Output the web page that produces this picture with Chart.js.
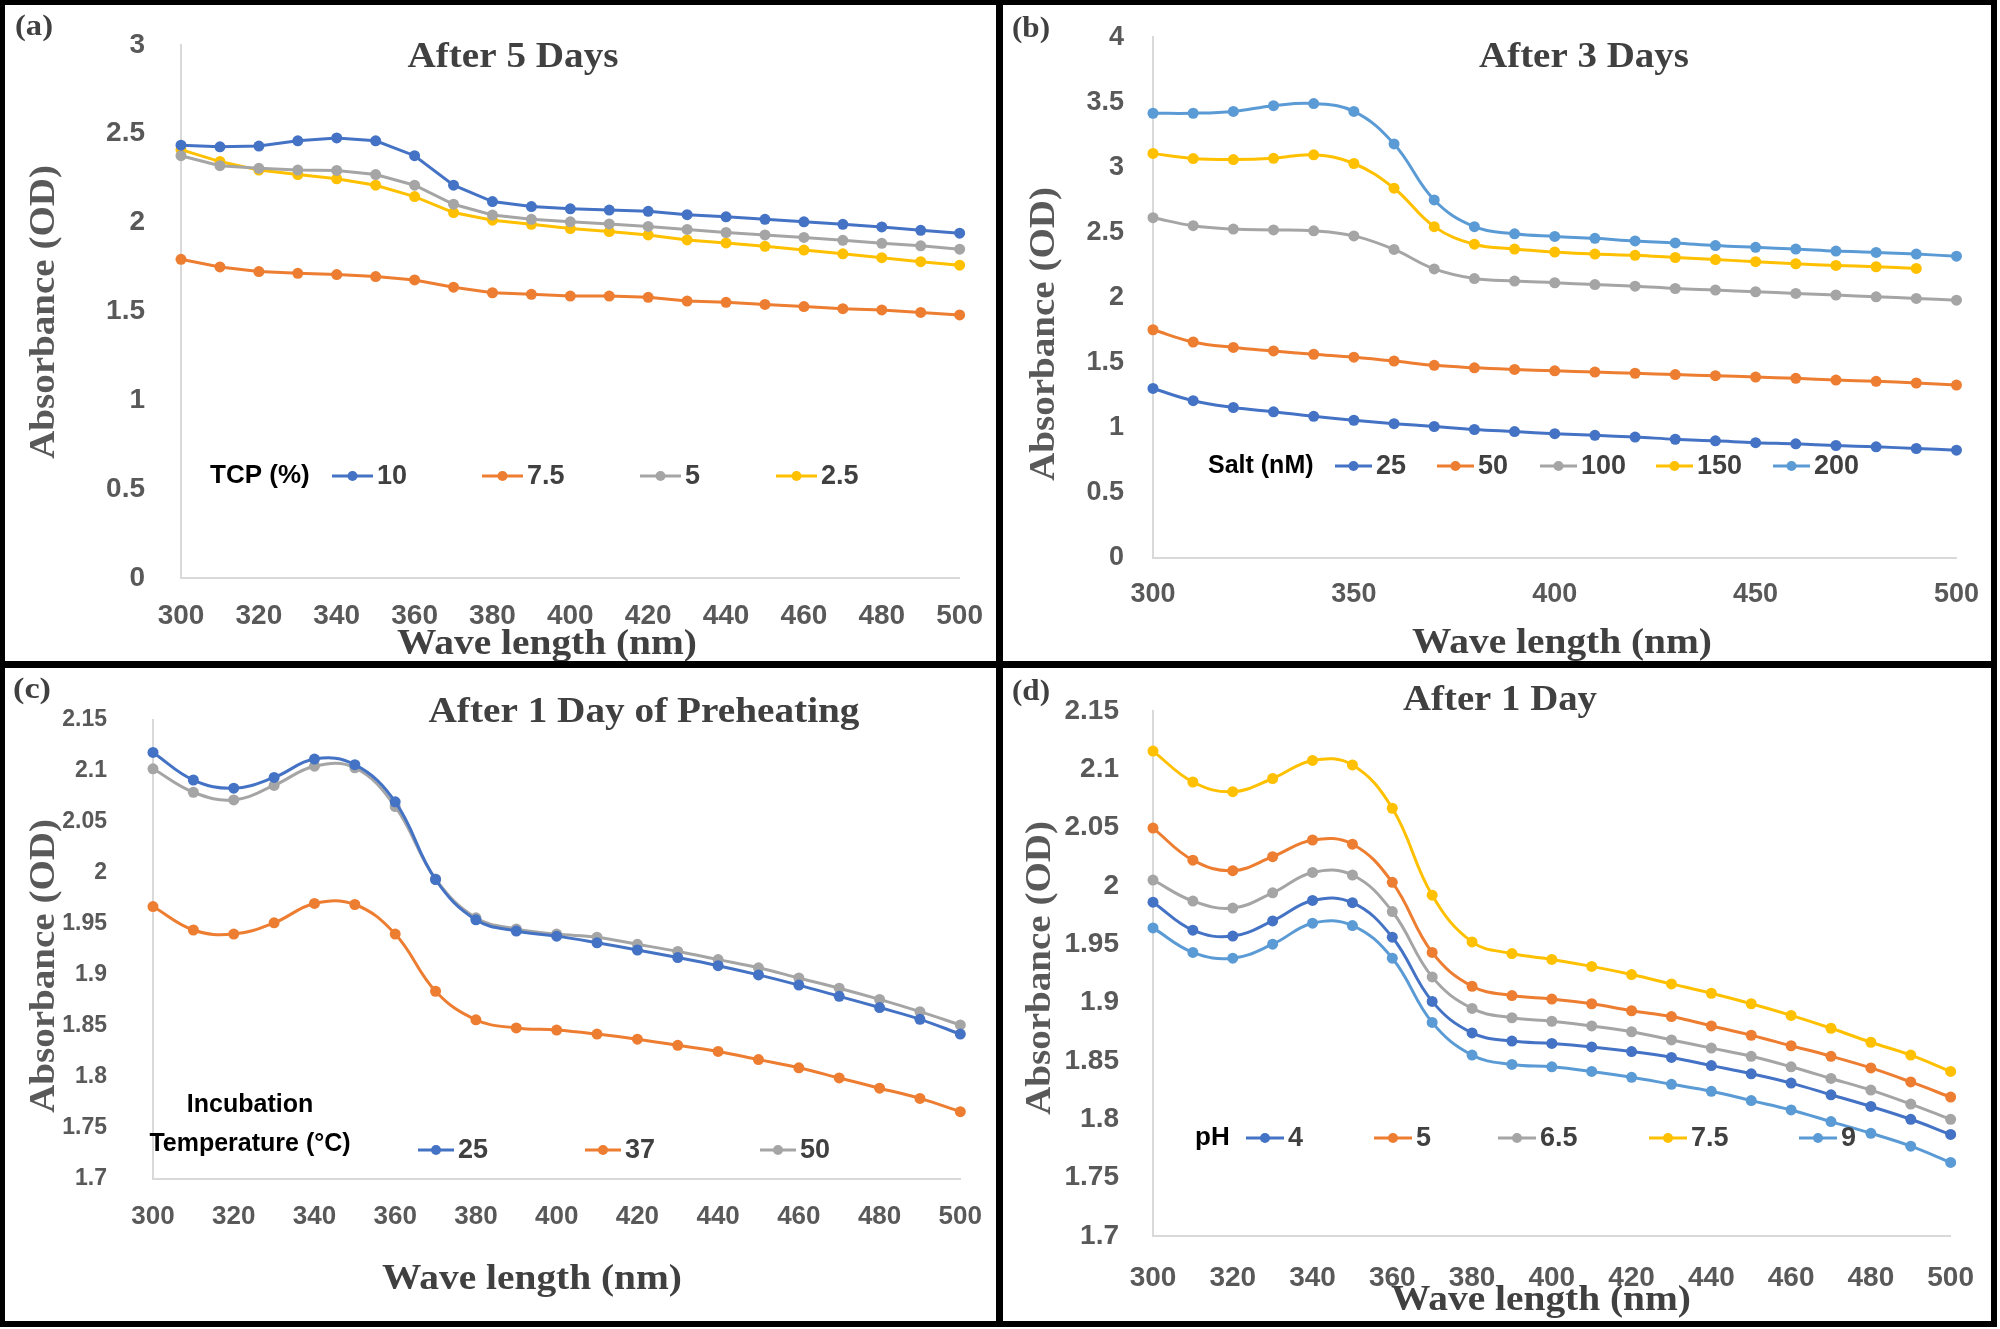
<!DOCTYPE html>
<html>
<head>
<meta charset="utf-8">
<script src="https://cdn.jsdelivr.net/npm/chart.js@4.4.1/dist/chart.umd.min.js"></script>
<style>
  body { margin: 0; background: #fff; }
  #page { position: relative; width: 2000px; height: 1329px; background: #fff; overflow: hidden; }
  canvas { position: absolute; }
  .bar { position: absolute; background: #000; }
</style>
</head>
<body>
<div id="page">
  <canvas id="pa" width="996" height="661" style="left:0;top:0"></canvas>
  <canvas id="pb" width="988" height="661" style="left:1003px;top:0"></canvas>
  <canvas id="pc" width="996" height="653" style="left:0;top:668px"></canvas>
  <canvas id="pd" width="988" height="653" style="left:1003px;top:668px"></canvas>
  <div class="bar" style="left:0;top:0;width:1997px;height:5px"></div>
  <div class="bar" style="left:0;top:1321px;width:1997px;height:6px"></div>
  <div class="bar" style="left:0;top:0;width:5px;height:1327px"></div>
  <div class="bar" style="left:1991px;top:0;width:6px;height:1327px"></div>
  <div class="bar" style="left:996px;top:0;width:7px;height:1327px"></div>
  <div class="bar" style="left:0;top:661px;width:1997px;height:7px"></div>
</div>
<script>
const wavelengths = [300, 310, 320, 330, 340, 350, 360, 370, 380, 390, 400, 410, 420, 430, 440, 450, 460, 470, 480, 490, 500];

// (a) TCP (%), after 5 days
const tcpLabels = ["10", "7.5", "5", "2.5"];
const tcp10 = [2.435, 2.426, 2.43, 2.46, 2.476, 2.46, 2.376, 2.21, 2.118, 2.09, 2.077, 2.07, 2.063, 2.044, 2.032, 2.018, 2.004, 1.99, 1.975, 1.956, 1.94];
const tcp75 = [1.793, 1.75, 1.724, 1.714, 1.707, 1.696, 1.677, 1.636, 1.605, 1.596, 1.586, 1.586, 1.579, 1.558, 1.551, 1.539, 1.527, 1.515, 1.508, 1.494, 1.48];
const tcp5 = [2.376, 2.32, 2.305, 2.295, 2.293, 2.27, 2.21, 2.103, 2.042, 2.018, 2.004, 1.992, 1.978, 1.961, 1.944, 1.93, 1.916, 1.9, 1.883, 1.869, 1.85];
const tcp25 = [2.41, 2.343, 2.295, 2.27, 2.246, 2.21, 2.146, 2.056, 2.013, 1.99, 1.966, 1.949, 1.93, 1.902, 1.885, 1.866, 1.845, 1.824, 1.802, 1.78, 1.76];

// (b) Salt (nM), after 3 days
const saltLabels = ["25", "50", "100", "150", "200"];
const salt25 = [1.302, 1.208, 1.156, 1.123, 1.088, 1.058, 1.032, 1.01, 0.987, 0.971, 0.955, 0.942, 0.929, 0.912, 0.9, 0.886, 0.877, 0.864, 0.854, 0.841, 0.828];
const salt50 = [1.753, 1.659, 1.617, 1.59, 1.565, 1.542, 1.513, 1.48, 1.461, 1.448, 1.438, 1.428, 1.419, 1.409, 1.4, 1.39, 1.38, 1.367, 1.357, 1.344, 1.328];
const salt100 = [2.614, 2.552, 2.526, 2.52, 2.513, 2.474, 2.37, 2.22, 2.146, 2.127, 2.114, 2.1, 2.088, 2.07, 2.058, 2.045, 2.032, 2.02, 2.006, 1.994, 1.98];
const salt150 = [3.107, 3.068, 3.06, 3.07, 3.097, 3.03, 2.84, 2.545, 2.41, 2.373, 2.35, 2.334, 2.325, 2.308, 2.292, 2.276, 2.26, 2.247, 2.237, 2.224];
const salt200 = [3.416, 3.416, 3.43, 3.474, 3.49, 3.43, 3.18, 2.75, 2.545, 2.49, 2.47, 2.455, 2.435, 2.42, 2.4, 2.386, 2.373, 2.357, 2.347, 2.334, 2.318];

// (c) incubation temperature, after 1 day of preheating
const tempLabels = ["25", "37", "50"];
const temp25 = [2.118, 2.091, 2.083, 2.0935, 2.1115, 2.106, 2.0696, 1.9935, 1.954, 1.943, 1.938, 1.9315, 1.9244, 1.917, 1.909, 1.9, 1.89, 1.879, 1.868, 1.8565, 1.842];
const temp37 = [1.967, 1.944, 1.94, 1.951, 1.97, 1.969, 1.94, 1.884, 1.856, 1.848, 1.846, 1.842, 1.837, 1.831, 1.825, 1.817, 1.809, 1.799, 1.789, 1.779, 1.766];
const temp50 = [2.102, 2.079, 2.0715, 2.0857, 2.1045, 2.103, 2.065, 1.994, 1.956, 1.945, 1.94, 1.937, 1.93, 1.923, 1.915, 1.907, 1.897, 1.887, 1.876, 1.864, 1.851];

// (d) pH, after 1 day
const phLabels = ["4", "5", "6.5", "7.5", "9"];
const ph4 = [1.986, 1.962, 1.957, 1.97, 1.9875, 1.9856, 1.956, 1.901, 1.874, 1.867, 1.865, 1.862, 1.858, 1.853, 1.846, 1.839, 1.831, 1.821, 1.811, 1.8, 1.787];
const ph5 = [2.0495, 2.022, 2.013, 2.025, 2.0393, 2.0357, 2.003, 1.943, 1.914, 1.906, 1.903, 1.899, 1.893, 1.888, 1.88, 1.872, 1.863, 1.854, 1.844, 1.832, 1.819];
const ph65 = [2.005, 1.987, 1.981, 1.994, 2.0115, 2.0093, 1.978, 1.922, 1.895, 1.887, 1.884, 1.88, 1.875, 1.868, 1.861, 1.854, 1.845, 1.835, 1.825, 1.813, 1.8];
const ph75 = [2.1155, 2.089, 2.0807, 2.092, 2.1075, 2.1036, 2.0665, 1.992, 1.952, 1.942, 1.937, 1.931, 1.924, 1.916, 1.908, 1.899, 1.889, 1.878, 1.866, 1.855, 1.841];
const ph9 = [1.964, 1.943, 1.938, 1.95, 1.968, 1.966, 1.938, 1.883, 1.855, 1.847, 1.845, 1.841, 1.836, 1.83, 1.824, 1.816, 1.808, 1.798, 1.788, 1.777, 1.763];

const BLUE = "#4472C4", ORANGE = "#ED7D31", GRAY = "#A5A5A5", YELLOW = "#FFC000", LIGHT = "#5B9BD5";
const SERIF = '"Liberation Serif", "Times New Roman", serif';
const SANS = '"Liberation Sans", Arial, sans-serif';

// text squeezed/stretched to the width it has in the picture
function fitText(ctx, text, x, y, font, color, width, rotate) {
  ctx.save();
  ctx.font = font;
  ctx.fillStyle = color;
  ctx.textAlign = "center";
  ctx.textBaseline = "middle";
  const w = ctx.measureText(text).width;
  ctx.translate(x, y);
  if (rotate) ctx.rotate(-Math.PI / 2);
  ctx.scale(width / w, 1);
  ctx.fillText(text, 0, 0);
  ctx.restore();
}

const decor = {
  id: "decor",
  afterDraw(chart, args, o) {
    const ctx = chart.ctx;
    fitText(ctx, o.label, o.labelX, o.labelY, "bold 30px " + SERIF, "#404040", 38);
    fitText(ctx, o.title, o.titleX, o.titleY, "bold 35px " + SERIF, "#404040", o.titleW);
    fitText(ctx, "Absorbance (OD)", o.yTitleX, o.yTitleY, "bold 35px " + SERIF, "#595959", 294, true);
    fitText(ctx, "Wave length (nm)", o.xTitleX, o.xTitleY, "bold 35px " + SERIF, "#404040", 300);

    const lg = o.legend;
    ctx.save();
    ctx.textBaseline = "middle";
    ctx.fillStyle = "#000";
    lg.heads.forEach(h => {
      ctx.font = "bold " + (h.size || 26) + "px " + SANS;
      ctx.textAlign = h.align || "left";
      ctx.fillText(h.text, h.x, h.y);
    });
    ctx.font = "bold 27px " + SANS;
    ctx.textAlign = "left";
    chart.data.datasets.forEach((ds, i) => {
      const x0 = lg.xs[i], y = lg.y, len = lg.len;
      ctx.strokeStyle = ds.borderColor;
      ctx.lineWidth = 3;
      ctx.beginPath();
      ctx.moveTo(x0, y);
      ctx.lineTo(x0 + len, y);
      ctx.stroke();
      ctx.fillStyle = ds.borderColor;
      ctx.beginPath();
      ctx.arc(x0 + len / 2, y, 5, 0, Math.PI * 2);
      ctx.fill();
      ctx.fillStyle = "#404040";
      ctx.fillText(ds.label, x0 + len + 4, y + 1);
    });
    ctx.restore();
  }
};

function series(label, values, color, tension) {
  return {
    label: label,
    data: values.map((v, i) => ({ x: wavelengths[i], y: v })),
    borderColor: color,
    backgroundColor: color,
    pointBackgroundColor: color,
    pointBorderColor: color,
    pointRadius: 5.5,
    pointBorderWidth: 0,
    borderWidth: 3,
    tension: tension,
    clip: false
  };
}

function makeChart(id, datasets, p) {
  return new Chart(document.getElementById(id), {
    type: "line",
    data: { datasets: datasets },
    plugins: [decor],
    options: {
      responsive: false,
      animation: false,
      layout: { padding: { top: p.top, right: p.right, left: 0, bottom: 0 } },
      plugins: {
        legend: { display: false },
        tooltip: { enabled: false },
        decor: p.decor
      },
      scales: {
        x: {
          type: "linear",
          min: 300,
          max: 500,
          ticks: { stepSize: p.xStep, padding: p.xPad, color: "#595959", maxRotation: 0, autoSkip: false,
                   font: { family: SANS, size: p.xFont, weight: "bold" } },
          grid: { display: false },
          border: { color: "#d9d9d9", width: 2 },
          afterFit: s => { s.height = p.xH; }
        },
        y: {
          min: p.yMin,
          max: p.yMax,
          ticks: { stepSize: p.yStep, padding: p.yPad, color: "#595959", autoSkip: false,
                   font: { family: SANS, size: p.yFont, weight: "bold" },
                   callback: v => String(+v.toFixed(2)) },
          grid: { display: false },
          border: { color: "#d9d9d9", width: 2 },
          afterFit: s => { s.width = p.yW; }
        }
      }
    }
  });
}

makeChart("pa", [
  series(tcpLabels[0], tcp10, BLUE, 0),
  series(tcpLabels[1], tcp75, ORANGE, 0),
  series(tcpLabels[2], tcp5, GRAY, 0),
  series(tcpLabels[3], tcp25, YELLOW, 0)
], {
  top: 40, right: 34, xH: 83, yW: 181, xPad: 13, yPad: 28, xFont: 28, yFont: 28,
  xStep: 20, yMin: 0, yMax: 3, yStep: 0.5,
  decor: {
    label: "(a)", labelX: 34, labelY: 27,
    title: "After 5 Days", titleX: 513, titleY: 58, titleW: 211,
    yTitleX: 45, yTitleY: 312, xTitleX: 547, xTitleY: 645,
    legend: { y: 476, len: 41, xs: [332, 482, 640, 776], heads: [{ text: "TCP (%)", x: 210, y: 476 }] }
  }
});

makeChart("pb", [
  series(saltLabels[0], salt25, BLUE, 0.4),
  series(saltLabels[1], salt50, ORANGE, 0.4),
  series(saltLabels[2], salt100, GRAY, 0.4),
  series(saltLabels[3], salt150, YELLOW, 0.4),
  series(saltLabels[4], salt200, LIGHT, 0.4)
], {
  top: 34, right: 33, xH: 103, yW: 150, xPad: 12, yPad: 21, xFont: 27, yFont: 27,
  xStep: 50, yMin: 0, yMax: 4, yStep: 0.5,
  decor: {
    label: "(b)", labelX: 28, labelY: 29,
    title: "After 3 Days", titleX: 581, titleY: 58, titleW: 210,
    yTitleX: 42, yTitleY: 334, xTitleX: 559, xTitleY: 644,
    legend: { y: 466, len: 37, xs: [332, 434, 537, 653, 770], heads: [{ text: "Salt (nM)", x: 205, y: 466, size: 25 }] }
  }
});

makeChart("pc", [
  series(tempLabels[0], temp25, BLUE, 0.4),
  series(tempLabels[1], temp37, ORANGE, 0.4),
  series(tempLabels[2], temp50, GRAY, 0.4)
], {
  top: 21, right: 31, xH: 142, yW: 153, xPad: 14, yPad: 38, xFont: 26, yFont: 23,
  xStep: 20, yMin: 1.7, yMax: 2.15, yStep: 0.05,
  decor: {
    label: "(c)", labelX: 32, labelY: 22,
    title: "After 1 Day of Preheating", titleX: 644, titleY: 45, titleW: 431,
    yTitleX: 45, yTitleY: 298, xTitleX: 532, xTitleY: 612,
    legend: { y: 482, len: 36, xs: [418, 585, 760], heads: [
      { text: "Incubation", x: 250, y: 437, size: 25, align: "center" },
      { text: "Temperature (°C)", x: 250, y: 476, size: 25, align: "center" }
    ] }
  }
});

makeChart("pd", [
  series(phLabels[0], ph4, BLUE, 0.4),
  series(phLabels[1], ph5, ORANGE, 0.4),
  series(phLabels[2], ph65, GRAY, 0.4),
  series(phLabels[3], ph75, YELLOW, 0.4),
  series(phLabels[4], ph9, LIGHT, 0.4)
], {
  top: 37, right: 36, xH: 85, yW: 150, xPad: 17, yPad: 26, xFont: 28, yFont: 28,
  xStep: 20, yMin: 1.7, yMax: 2.15, yStep: 0.05,
  decor: {
    label: "(d)", labelX: 28, labelY: 24,
    title: "After 1 Day", titleX: 497, titleY: 33, titleW: 194,
    yTitleX: 38, yTitleY: 300, xTitleX: 538, xTitleY: 633,
    legend: { y: 470, len: 38, xs: [243, 371, 495, 646, 796], heads: [{ text: "pH", x: 192, y: 470 }] }
  }
});
</script>
</body>
</html>
